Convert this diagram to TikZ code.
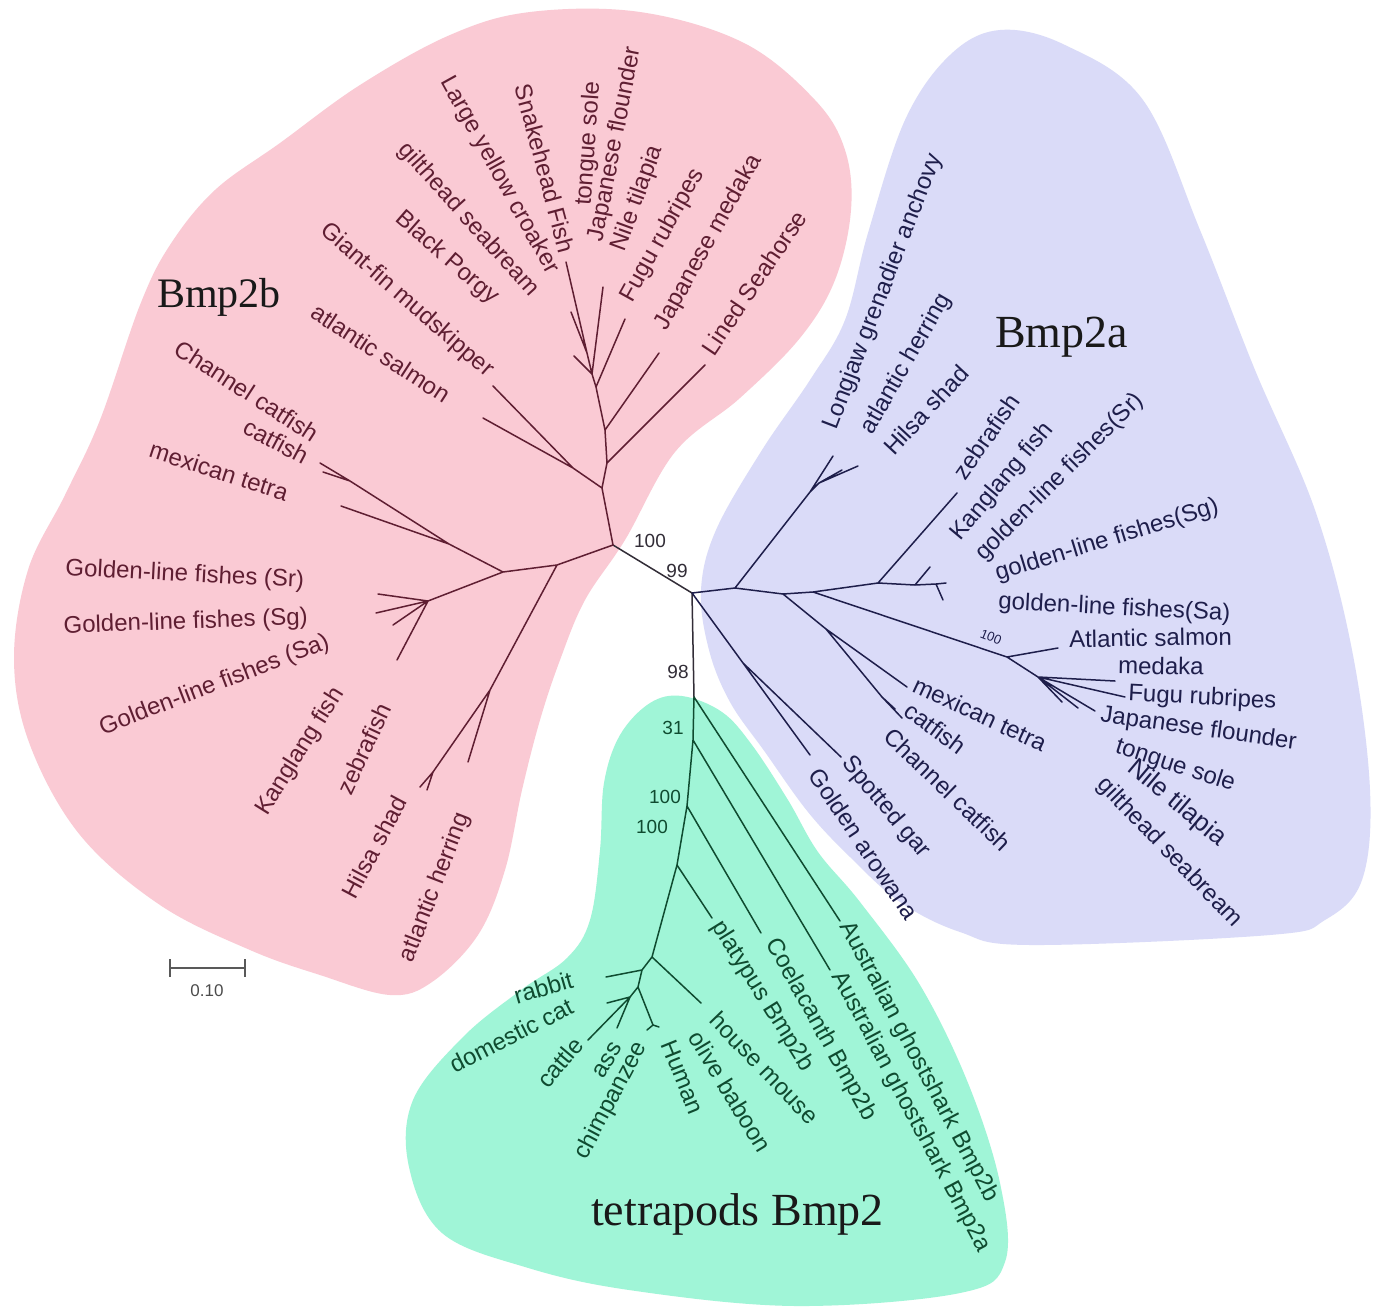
\documentclass[tikz,border=0pt]{standalone}
\usepackage{fontspec}
\setmainfont{Liberation Sans}
\newfontfamily\ttlfont{Liberation Serif}
\definecolor{pinkfill}{RGB}{250,202,212}
\definecolor{lavfill}{RGB}{218,219,248}
\definecolor{mintfill}{RGB}{160,245,215}
\definecolor{pinkink}{RGB}{95,30,50}
\definecolor{lavink}{RGB}{30,30,75}
\definecolor{mintink}{RGB}{15,75,48}
\definecolor{coreink}{RGB}{50,45,55}
\begin{document}
\begin{tikzpicture}[x=1pt,y=-1pt,
  pb/.style={draw=pinkink, line width=1.5pt, line cap=round},
  lb/.style={draw=lavink, line width=1.5pt, line cap=round},
  gb/.style={draw=mintink, line width=1.5pt, line cap=round},
  cb/.style={draw=coreink, line width=1.5pt, line cap=round},
  lab/.style={inner sep=0pt, font=\fontsize{24}{24}\selectfont},
  plab/.style={lab, text=pinkink},
  alab/.style={lab, text=lavink},
  glab/.style={lab, text=mintink},
  boot/.style={inner sep=0pt, font=\fontsize{19}{19}\selectfont},
  ttl/.style={inner sep=0pt, font=\ttlfont\fontsize{46}{46}\selectfont, text=black!90, anchor=base west}
]
\useasboundingbox (0,0) rectangle (1374,1312);
\fill[white] (0,0) rectangle (1374,1312);

% ---------- background clades ----------
\fill[pinkfill] plot[smooth cycle, tension=0.6] coordinates {
 (530,12) (640,12) (744,43) (815,100) (845,150) (851,210) (835,280) (800,338)
 (740,398) (675,452) (625,540) (585,600) (560,660) (540,720) (522,790) (505,870)
 (478,935) (432,982) (390,995) (320,975) (250,950) (160,905) (80,835) (30,745)
 (14,660) (28,570) (65,495) (100,420) (140,305) (170,245) (215,190) (280,143)
 (360,85) (450,35)};
\fill[lavfill] plot[smooth cycle, tension=0.6] coordinates {
 (1000,30) (1065,45) (1143,100) (1200,230) (1255,370) (1315,510) (1352,650)
 (1370,790) (1362,880) (1325,920) (1270,935) (1030,945) (960,932) (900,902)
 (850,857) (808,812) (765,752) (730,702) (709,650) (701,590) (716,530)
 (762,450) (810,380) (845,320) (868,233) (905,120) (950,55)};
\fill[mintfill] plot[smooth cycle, tension=0.6] coordinates {
 (682,696) (722,712) (752,745) (788,800) (818,852) (860,902) (920,985)
 (968,1083) (1000,1183) (1005,1262) (960,1293) (795,1306) (629,1290)
 (525,1267) (442,1233) (409,1167) (413,1100) (463,1037) (521,990)
 (567,958) (590,920) (600,850) (604,783) (620,735) (650,703)};

% ---------- nodes of the tree ----------
\coordinate (A) at (613,545);
\coordinate (B) at (692,593);
\coordinate (C) at (694,697);
% pink
\coordinate (P1) at (602,488); \coordinate (P2) at (573,468);
\coordinate (P3) at (607,463); \coordinate (P4) at (605,430);
\coordinate (P5) at (596,387); \coordinate (P6) at (592,374);
\coordinate (P7) at (587,353);
\coordinate (tGiant) at (493,386); \coordinate (tAsal) at (483,418);
\coordinate (tSea) at (705,365); \coordinate (tJmed) at (659,353);
\coordinate (tFugu) at (625,319); \coordinate (tNile) at (603,287);
\coordinate (tSnake) at (566,262); \coordinate (tLyc) at (571,312);
\coordinate (tShort) at (574,356);
\coordinate (N1) at (557,565); \coordinate (N2) at (503,572);
\coordinate (N3) at (449,544); \coordinate (N4) at (350,481);
\coordinate (tMex) at (341,506); \coordinate (tCh1) at (320,463); \coordinate (tCh2) at (323,472);
\coordinate (G1) at (428,601);
\coordinate (tSr) at (378,594); \coordinate (tSg) at (376,613);
\coordinate (tSa) at (393,625); \coordinate (tKa) at (397,660);
\coordinate (H1) at (490,690); \coordinate (H2) at (433,772);
\coordinate (tHer) at (468,762); \coordinate (tHi1) at (420,787); \coordinate (tHi2) at (427,790);
% lavender
\coordinate (K1) at (735,588); \coordinate (M1) at (783,594);
\coordinate (K3) at (813,592); \coordinate (Z) at (878,583);
\coordinate (GL) at (915,585); \coordinate (GL2) at (936,584);
\coordinate (Lj) at (810,492); \coordinate (Lj2) at (819,483);
\coordinate (tLong) at (833,456); \coordinate (tAher) at (842,470); \coordinate (tHil) at (858,466);
\coordinate (tZeb) at (957,493);
\coordinate (tGL1) at (930,567); \coordinate (tGL2) at (946,583); \coordinate (tGL3) at (943,600);
\coordinate (M2) at (826,629); \coordinate (Cn) at (882,697);
\coordinate (tMexA) at (907,687); \coordinate (tCatA) at (895,709); \coordinate (tChanA) at (902,718);
\coordinate (SL) at (1007,657); \coordinate (SL2) at (1038,677);
\coordinate (tAsalA) at (1058,648);
\coordinate (tMed) at (1115,681); \coordinate (tFuguA) at (1125,697);
\coordinate (tJfl) at (1095,711); \coordinate (tTs) at (1078,708); \coordinate (tNl) at (1062,702);
\coordinate (AR) at (743,663);
\coordinate (tAro) at (810,755); \coordinate (tGar) at (841,757);
% mint
\coordinate (D) at (693,740); \coordinate (E) at (687,806);
\coordinate (F) at (677,865); \coordinate (G) at (652,957);
\coordinate (H) at (642,970); \coordinate (I) at (638,987);
\coordinate (J) at (630,997); \coordinate (Pr) at (653,1025);
\coordinate (tGSb) at (840,921); \coordinate (tGSa) at (830,970);
\coordinate (tCoel) at (761,933); \coordinate (tPlat) at (712,918);
\coordinate (tMouse) at (701,1003); \coordinate (tRab) at (606,977);
\coordinate (tDcat) at (607,1003); \coordinate (tCattle) at (588,1040);
\coordinate (tAss) at (617,1028);
\coordinate (tPr1) at (647,1030); \coordinate (tPr2) at (659,1027);

% ---------- branches ----------
\draw[cb] (A) -- (B) (B) -- (C);
\draw[pb] (A) -- (P1) (P1) -- (P2) (P2) -- (tGiant) (P2) -- (tAsal)
  (P1) -- (P3) (P3) -- (tSea) (P3) -- (P4) (P4) -- (tJmed) (P4) -- (P5)
  (P5) -- (tFugu) (P5) -- (P6) (P6) -- (tNile) (P6) -- (P7) (P7) -- (tSnake)
  (P7) -- (tLyc) (P6) -- (tShort);
\draw[pb] (A) -- (N1) (N1) -- (N2) (N2) -- (N3) (N3) -- (tMex) (N3) -- (N4)
  (N4) -- (tCh1) (N4) -- (tCh2)
  (N2) -- (G1) (G1) -- (tSr) (G1) -- (tSg) (G1) -- (tSa) (G1) -- (tKa)
  (N1) -- (H1) (H1) -- (tHer) (H1) -- (H2) (H2) -- (tHi1) (H2) -- (tHi2);
\draw[lb] (B) -- (K1) (K1) -- (M1) (M1) -- (K3) (K3) -- (Z) (Z) -- (GL) (GL) -- (GL2)
  (K1) -- (Lj) (Lj) -- (tLong) (Lj) -- (Lj2) (Lj2) -- (tHil) (Lj2) -- (tAher)
  (Z) -- (tZeb) (GL) -- (tGL1) (GL2) -- (tGL2) (GL2) -- (tGL3)
  (M1) -- (M2) (M2) -- (tMexA) (M2) -- (Cn) (Cn) -- (tCatA) (Cn) -- (tChanA)
  (K3) -- (SL) (SL) -- (tAsalA) (SL) -- (SL2) (SL2) -- (tMed) (SL2) -- (tFuguA)
  (SL2) -- (tJfl) (SL2) -- (tTs) (SL2) -- (tNl)
  (B) -- (AR) (AR) -- (tAro) (AR) -- (tGar);
\draw[gb] (C) -- (D) (D) -- (E) (E) -- (F) (F) -- (G) (G) -- (H) (H) -- (I) (I) -- (J)
  (C) -- (tGSb) (D) -- (tGSa) (E) -- (tCoel) (F) -- (tPlat) (G) -- (tMouse)
  (H) -- (tRab) (J) -- (tDcat) (J) -- (tCattle) (J) -- (tAss)
  (I) -- (Pr) (Pr) -- (tPr1) (Pr) -- (tPr2);

% ---------- bootstrap values ----------
\node[boot, text=coreink] (b1) at (650,541) {100};
\node[boot, text=coreink] (b2) at (677,571) {99};
\node[boot, text=coreink] (b3) at (678,672) {98};
\node[boot, text=mintink] (b4) at (673,728) {31};
\node[boot, text=mintink] (b5) at (665,797) {100};
\node[boot, text=mintink] (b6) at (652,827) {100};
\node[inner sep=0pt, font=\fontsize{13}{13}\selectfont, text=lavink, rotate=-22] (b7) at (991,637) {100};

% ---------- pink labels ----------
\node[plab, anchor=mid west, rotate=56] (lSea) at (712,356) {Lined Seahorse};
\node[plab, anchor=mid west, rotate=61] (lJmed) at (664,330) {Japanese medaka};
\node[plab, anchor=mid west, rotate=61] (lFugu) at (630,302) {Fugu rubripes};
\node[plab, anchor=mid west, rotate=70] (lNile) at (622,252) {Nile tilapia};
\node[plab, anchor=mid west, rotate=79] (lJfl) at (600,242) {Japanese flounder};
\node[plab, anchor=mid west, rotate=86] (lTs) at (588,206) {tongue sole};
\node[plab, anchor=mid east, rotate=-75] (lSnake) at (562,254) {Snakehead Fish};
\node[plab, anchor=mid east, rotate=-61] (lLyc) at (550,274) {Large yellow croaker};
\node[plab, anchor=mid east, rotate=-48] (lGilt) at (532,296) {gilthead seabream};
\node[plab, anchor=mid east, rotate=-41] (lPorgy) at (493,303) {Black Porgy};
\node[plab, anchor=mid east, rotate=-41] (lGiant) at (488,376) {Giant-fin mudskipper};
\node[plab, anchor=mid east, rotate=-33] (lAsal) at (445,402) {atlantic salmon};
\node[plab, anchor=mid east, rotate=-33] (lChan) at (313,441) {Channel catfish};
\node[plab, anchor=mid east, rotate=-28] (lCat) at (304,463) {catfish};
\node[plab, anchor=mid east, rotate=-18] (lMex) at (286,499) {mexican tetra};
\node[plab, anchor=mid east, rotate=-3] (lSr) at (304,585) {Golden-line fishes (Sr)};
\node[plab, anchor=mid east, rotate=2] (lSg) at (308,622) {Golden-line fishes (Sg)};
\node[plab, anchor=mid east, rotate=21] (lSa) at (330,645) {Golden-line fishes (Sa)};
\node[plab, anchor=mid east, rotate=58] (lKang) at (342,692) {Kanglang fish};
\node[plab, anchor=mid east, rotate=65] (lZeb) at (390,707) {zebrafish};
\node[plab, anchor=mid east, rotate=62] (lHil) at (406,800) {Hilsa shad};
\node[plab, anchor=mid east, rotate=69] (lHer) at (467,815) {atlantic herring};

% ---------- lavender labels ----------
\node[alab, anchor=mid west, rotate=69] (lLong) at (834,430) {Longjaw grenadier anchovy};
\node[alab, anchor=mid west, rotate=60] (lAher) at (870,434) {atlantic herring};
\node[alab, anchor=mid west, rotate=47] (lHilA) at (892,455) {Hilsa shad};
\node[alab, anchor=mid west, rotate=55] (lZebA) at (963,480) {zebrafish};
\node[alab, anchor=mid west, rotate=50] (lKangA) at (958,540) {Kanglang fish};
\node[alab, anchor=mid west, rotate=45] (lSrA) at (982,560) {golden-line fishes(Sr)};
\node[alab, anchor=mid west, rotate=17] (lSgA) at (997,578) {golden-line fishes(Sg)};
\node[alab, anchor=mid west, rotate=-3] (lSaA) at (998,606) {golden-line fishes(Sa)};
\node[alab, anchor=mid west, rotate=1] (lAsalA) at (1069,645) {Atlantic salmon};
\node[alab, anchor=mid west, rotate=-1] (lMed) at (1118,671) {medaka};
\node[alab, anchor=mid west, rotate=-3] (lFuguA) at (1128,698) {Fugu rubripes};
\node[alab, anchor=mid west, rotate=-8] (lJflA) at (1100,719) {Japanese flounder};
\node[alab, anchor=mid west, rotate=-18] (lTsA) at (1115,750) {tongue sole};
\node[alab, anchor=mid west, rotate=-40, font=\fontsize{26}{26}\selectfont] (lNileA) at (1128,768) {Nile tilapia};
\node[alab, anchor=mid west, rotate=-46] (lGiltA) at (1098,784) {gilthead seabream};
\node[alab, anchor=mid west, rotate=-25] (lMexA) at (912,689) {mexican tetra};
\node[alab, anchor=mid west, rotate=-37] (lCatA) at (904,712) {catfish};
\node[alab, anchor=mid west, rotate=-44] (lChanA) at (884,736) {Channel catfish};
\node[alab, anchor=mid west, rotate=-50] (lGar) at (843,762) {Spotted gar};
\node[alab, anchor=mid west, rotate=-56] (lAro) at (810,774) {Golden arowana};

% ---------- mint labels ----------
\node[glab, anchor=mid west, rotate=-62] (lGSb) at (842,925) {Australian ghostshark Bmp2b};
\node[glab, anchor=mid west, rotate=-62] (lGSa) at (834,975) {Australian ghostshark Bmp2a};
\node[glab, anchor=mid west, rotate=-61] (lCoel) at (768,942) {Coelacanth Bmp2b};
\node[glab, anchor=mid west, rotate=-58] (lPlat) at (714,925) {platypus Bmp2b};
\node[glab, anchor=mid west, rotate=-46] (lMouse) at (710,1020) {house mouse};
\node[glab, anchor=mid west, rotate=-59] (lBab) at (690,1036) {olive baboon};
\node[glab, anchor=mid west, rotate=-68] (lHum) at (663,1043) {Human};
\node[glab, anchor=mid east, rotate=62] (lChimp) at (645,1045) {chimpanzee};
\node[glab, anchor=mid east, rotate=59] (lAss) at (621,1046) {ass};
\node[glab, anchor=mid east, rotate=50] (lCattle) at (583,1044) {cattle};
\node[glab, anchor=mid east, rotate=27] (lDcat) at (574,1010) {domestic cat};
\node[glab, anchor=mid east, rotate=16] (lRab) at (574,985) {rabbit};

% ---------- clade titles ----------
\node[ttl, font=\ttlfont\fontsize{42}{42}\selectfont] (t1) at (157,307) {Bmp2b};
\node[ttl] (t2) at (995,347) {Bmp2a};
\node[ttl] (t3) at (591,1225) {tetrapods Bmp2};

% ---------- scale bar ----------
\coordinate (s1) at (170,968); \coordinate (s2) at (245,968);
\coordinate (s1a) at (170,959); \coordinate (s1b) at (170,977);
\coordinate (s2a) at (245,959); \coordinate (s2b) at (245,977);
\draw[draw=black!65, line width=1.6pt] (s1) -- (s2) (s1a) -- (s1b) (s2a) -- (s2b);
\node[inner sep=0pt, font=\fontsize{17}{17}\selectfont, text=black!70] (sl) at (207,991) {0.10};
\end{tikzpicture}
\end{document}
